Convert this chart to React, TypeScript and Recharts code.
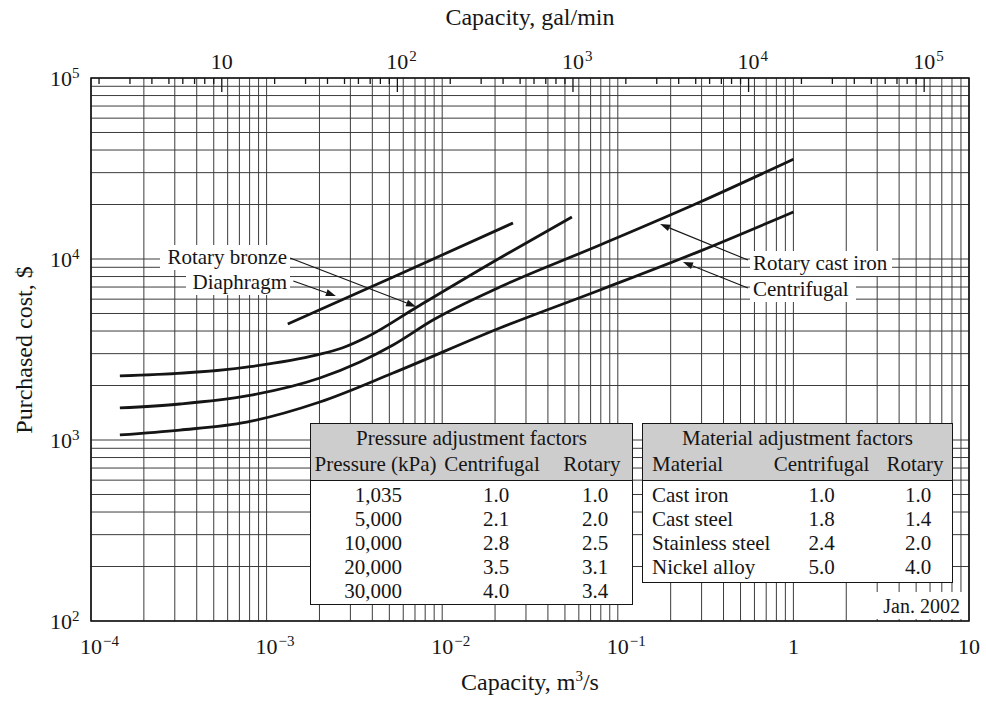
import React from "react";
import {
  LineChart,
  Line,
  XAxis,
  YAxis,
  CartesianGrid,
  ReferenceLine,
  ReferenceArea,
} from "recharts";

const FONT = '"Liberation Serif", "Times New Roman", serif';
const INK = "#151515";

// ---------------------------------------------------------------------------
// Data (capacity in m3/s, purchased cost in $)
// ---------------------------------------------------------------------------

const diaphragmQ = [1.32e-3, 5.75e-3, 0.0253];
const diaphragmCost = [4375, 8260, 15810];

const rotaryBronzeQ = [1.46e-4, 7.7e-4, 1.94e-3, 2.69e-3, 3.73e-3, 7.19e-3, 0.0213, 0.0548];
const rotaryBronzeCost = [2259, 2529, 2951, 3224, 3708, 5430, 10130, 17060];

const rotaryCastIronQ = [1.46e-4, 3.21e-4, 7.7e-4, 2.01e-3, 3.4e-3, 5.25e-3, 8.86e-3, 0.0213, 0.0792, 0.294, 1.0];
const rotaryCastIronCost = [1503, 1581, 1751, 2200, 2697, 3349, 4603, 7003, 11950, 20650, 35600];

const centrifugalQ = [1.46e-4, 3.21e-4, 7.7e-4, 2.01e-3, 5.25e-3, 0.0213, 0.0792, 0.294, 1.0];
const centrifugalCost = [1067, 1135, 1256, 1622, 2344, 4156, 6746, 11060, 18200];

// axis ticks
const decadesQ = [1e-4, 1e-3, 1e-2, 1e-1, 1, 10];
const decadesCost = [1e2, 1e3, 1e4, 1e5];
const decadesGpm = [1, 10, 1e2, 1e3, 1e4, 1e5];
// the printed gal/min scale sits this factor above m3/s
const GPM_FACTOR = 18000;

// tables
const pressureHeader = ["Pressure (kPa)", "Centrifugal", "Rotary"];
const pressureKpa = ["1,035", "5,000", "10,000", "20,000", "30,000"];
const pressureCentrifugal = ["1.0", "2.1", "2.8", "3.5", "4.0"];
const pressureRotary = ["1.0", "2.0", "2.5", "3.1", "3.4"];

const materialHeader = ["Material", "Centrifugal", "Rotary"];
const materialNames = ["Cast iron", "Cast steel", "Stainless steel", "Nickel alloy"];
const materialCentrifugal = ["1.0", "1.8", "2.4", "5.0"];
const materialRotary = ["1.0", "1.4", "2.0", "4.0"];

// annotation arrows: [from, to] in data units
const arrows = [
  [{ x: 1.36e-3, y: 10130 }, { x: 7.1e-3, y: 5450 }],
  [{ x: 1.42e-3, y: 7550 }, { x: 2.48e-3, y: 6250 }],
  [{ x: 0.551, y: 9870 }, { x: 0.174, y: 15590 }],
  [{ x: 0.551, y: 6920 }, { x: 0.235, y: 9620 }],
];

// ---------------------------------------------------------------------------
// Helpers
// ---------------------------------------------------------------------------

const toPoints = (qs: number[], cs: number[]) => qs.map((q, i) => ({ q, c: cs[i] }));

const logTicks = (decades: number[], min: number, max: number) => {
  const out: number[] = [];
  decades.forEach((d) => {
    for (let m = 1; m <= 9; m++) {
      const v = +(d * m).toPrecision(6);
      if (v >= min * 0.999 && v <= max * 1.001) out.push(v);
    }
  });
  return out;
};

const decadeExp = (v: number) => {
  const e = Math.round(Math.log10(v));
  return Math.abs(v - Math.pow(10, e)) / Math.pow(10, e) < 1e-6 ? e : null;
};

const supText = (e: number) => (e < 0 ? "\u2212" + Math.abs(e) : String(e));

const txt = { fontFamily: FONT, fill: INK };

// "10" centred on x with the exponent hanging to the right
function PowerCentered({ x, y, e }: { x: number; y: number; e: number }) {
  if (e === 0 || e === 1) {
    return (
      <text x={x} y={y} textAnchor="middle" fontSize={22} {...txt}>
        {e === 0 ? "1" : "10"}
      </text>
    );
  }
  return (
    <g>
      <text x={x} y={y} textAnchor="middle" fontSize={22} {...txt}>
        10
      </text>
      <text x={x + 12} y={y - 8} textAnchor="start" fontSize={15} {...txt}>
        {supText(e)}
      </text>
    </g>
  );
}

const renderBottomTick = (props: any) => {
  const { x, y, payload } = props;
  const e = decadeExp(payload.value);
  if (e === null) return <g />;
  return <PowerCentered x={x} y={y + 33} e={e} />;
};

const renderLeftTick = (props: any) => {
  const { x, y, payload } = props;
  const e = decadeExp(payload.value);
  if (e === null) return <g />;
  const split = x - 19;
  return (
    <g>
      <text x={split} y={y + 8} textAnchor="end" fontSize={22} {...txt}>
        10
      </text>
      <text x={split} y={y} textAnchor="start" fontSize={15} {...txt}>
        {supText(e)}
      </text>
    </g>
  );
};

// inward tick on the top edge for the gal/min scale
const makeTopTick = (gpm: number) => (props: any) => {
  const { x1, y1, y2 } = props;
  const top = Math.min(y1, y2);
  const e = decadeExp(gpm);
  const len = e === null ? 6 : 14;
  return (
    <g>
      <line x1={x1} x2={x1} y1={top} y2={top + len} stroke={INK} strokeWidth={1.3} />
      {e !== null && e > 0 ? <PowerCentered x={x1} y={top - 9} e={e} /> : null}
    </g>
  );
};

const renderArrow = (props: any) => {
  const { x1, y1, x2, y2 } = props;
  const ang = Math.atan2(y2 - y1, x2 - x1);
  const L = 10;
  const W = 3.5;
  const bx = x2 - L * Math.cos(ang);
  const by = y2 - L * Math.sin(ang);
  const px = -Math.sin(ang) * W;
  const py = Math.cos(ang) * W;
  return (
    <g>
      <line x1={x1} y1={y1} x2={bx} y2={by} stroke={INK} strokeWidth={1.1} />
      <polygon points={`${x2},${y2} ${bx + px},${by + py} ${bx - px},${by - py}`} fill={INK} />
    </g>
  );
};

// ---------------------------------------------------------------------------
// Overlays
// ---------------------------------------------------------------------------

const abs = (left: number, top: number, width: number, height: number): React.CSSProperties => ({
  position: "absolute",
  left,
  top,
  width,
  height,
  boxSizing: "border-box",
});

const tableText: React.CSSProperties = { fontSize: 21, fontFamily: FONT, color: INK };
const headerBg = "#cdcdcd";

function PressureTable() {
  const cols = [132, 106, 82];
  return (
    <div style={{ ...abs(310, 423, 323, 182), border: `1.5px solid ${INK}`, background: "#fff", ...tableText }}>
      <div style={{ background: headerBg, height: 56, borderBottom: `1.5px solid ${INK}` }}>
        <div style={{ height: 27, lineHeight: "28px", textAlign: "center" }}>Pressure adjustment factors</div>
        <div style={{ display: "flex", height: 27, lineHeight: "26px" }}>
          {pressureHeader.map((h, i) => (
            <div key={h} style={{ width: cols[i], textAlign: "center", paddingLeft: i === 2 ? 8 : 0, whiteSpace: "nowrap" }}>
              {h}
            </div>
          ))}
        </div>
      </div>
      <div style={{ paddingTop: 2 }}>
        {pressureKpa.map((p, r) => (
          <div key={p} style={{ display: "flex", height: 24, lineHeight: "24px" }}>
            <div style={{ width: cols[0], textAlign: "right", paddingRight: 41, boxSizing: "border-box" }}>{p}</div>
            <div style={{ width: cols[1], textAlign: "center" }}>{pressureCentrifugal[r]}</div>
            <div style={{ width: cols[2], textAlign: "center", paddingLeft: 10, boxSizing: "border-box" }}>{pressureRotary[r]}</div>
          </div>
        ))}
      </div>
    </div>
  );
}

function MaterialTable() {
  const cols = [121, 115, 72];
  return (
    <div style={{ ...abs(642, 423, 311, 160), border: `1.5px solid ${INK}`, background: "#fff", ...tableText }}>
      <div style={{ background: headerBg, height: 56, borderBottom: `1.5px solid ${INK}` }}>
        <div style={{ height: 27, lineHeight: "28px", textAlign: "center" }}>Material adjustment factors</div>
        <div style={{ display: "flex", height: 27, lineHeight: "26px" }}>
          {materialHeader.map((h, i) => (
            <div key={h} style={{ width: cols[i], textAlign: i === 0 ? "left" : "center", paddingLeft: i === 0 ? 9 : 0, boxSizing: "border-box", whiteSpace: "nowrap" }}>
              {h}
            </div>
          ))}
        </div>
      </div>
      <div style={{ paddingTop: 2 }}>
        {materialNames.map((m, r) => (
          <div key={m} style={{ display: "flex", height: 24, lineHeight: "24px" }}>
            <div style={{ width: cols[0], paddingLeft: 9, boxSizing: "border-box", whiteSpace: "nowrap" }}>{m}</div>
            <div style={{ width: cols[1], textAlign: "center" }}>{materialCentrifugal[r]}</div>
            <div style={{ width: cols[2], textAlign: "center", paddingLeft: 6, boxSizing: "border-box" }}>{materialRotary[r]}</div>
          </div>
        ))}
      </div>
    </div>
  );
}

function Tag({ left, top, width, align, children }: { left: number; top: number; width: number; align: "left" | "right"; children: React.ReactNode }) {
  return (
    <div
      style={{
        ...abs(left, top, width, 25),
        background: "#fff",
        fontSize: 21,
        fontFamily: FONT,
        color: INK,
        lineHeight: "25px",
        textAlign: align,
        paddingLeft: align === "left" ? 3 : 0,
        paddingRight: align === "right" ? 3 : 0,
        whiteSpace: "nowrap",
      }}
    >
      {children}
    </div>
  );
}

// ---------------------------------------------------------------------------
// Chart
// ---------------------------------------------------------------------------

export default function App() {
  const qTicks = logTicks(decadesQ, 1e-4, 10);
  const costTicks = logTicks(decadesCost, 100, 1e5);
  const gpmTicks = logTicks(decadesGpm, 1e-4 * GPM_FACTOR, 10 * GPM_FACTOR);

  const series = [
    { name: "Diaphragm", data: toPoints(diaphragmQ, diaphragmCost) },
    { name: "Rotary bronze", data: toPoints(rotaryBronzeQ, rotaryBronzeCost) },
    { name: "Rotary cast iron", data: toPoints(rotaryCastIronQ, rotaryCastIronCost) },
    { name: "Centrifugal", data: toPoints(centrifugalQ, centrifugalCost) },
  ];

  return (
    <div style={{ position: "absolute", left: 0, top: 0, width: 986, height: 702, background: "#fff", overflow: "hidden" }}>
      <LineChart width={986} height={702} margin={{ top: 78, right: 17, bottom: 0, left: 0 }}>
        <CartesianGrid xAxisId="m3" yAxisId="cost" stroke="#3c3c3c" strokeWidth={1} />
        <XAxis
          xAxisId="m3"
          type="number"
          dataKey="q"
          scale="log"
          domain={[1e-4, 10]}
          allowDataOverflow
          ticks={qTicks}
          interval={0}
          height={81}
          tickSize={0}
          tickMargin={0}
          tickLine={false}
          axisLine={false}
          tick={renderBottomTick}
        />
        <YAxis
          yAxisId="cost"
          type="number"
          scale="log"
          domain={[100, 1e5]}
          allowDataOverflow
          ticks={costTicks}
          interval={0}
          width={91}
          tickSize={0}
          tickMargin={0}
          tickLine={false}
          axisLine={false}
          tick={renderLeftTick}
        />
        <ReferenceArea
          xAxisId="m3"
          yAxisId="cost"
          x1={1e-4}
          x2={10}
          y1={100}
          y2={1e5}
          fill="none"
          fillOpacity={0}
          stroke={INK}
          strokeWidth={1.6}
          ifOverflow="visible"
        />
        {gpmTicks.map((g) => (
          <ReferenceLine
            key={"gpm" + g}
            xAxisId="m3"
            yAxisId="cost"
            x={g / GPM_FACTOR}
            shape={makeTopTick(g)}
            ifOverflow="visible"
          />
        ))}
        {series.map((s) => (
          <Line
            key={s.name}
            xAxisId="m3"
            yAxisId="cost"
            data={s.data}
            dataKey="c"
            name={s.name}
            type="monotone"
            stroke={INK}
            strokeWidth={2.8}
            dot={false}
            activeDot={false}
            isAnimationActive={false}
          />
        ))}
        {arrows.map((seg, i) => (
          <ReferenceLine
            key={i}
            xAxisId="m3"
            yAxisId="cost"
            segment={seg}
            stroke={INK}
            shape={renderArrow}
            ifOverflow="visible"
          />
        ))}
      </LineChart>

      {/* axis titles */}
      <div style={{ position: "absolute", left: 330, width: 400, top: 4, textAlign: "center", fontSize: 24, fontFamily: FONT, color: INK }}>
        Capacity, gal/min
      </div>
      <div style={{ position: "absolute", left: 330, width: 400, top: 669, textAlign: "center", fontSize: 24, fontFamily: FONT, color: INK }}>
        Capacity, m<sup style={{ fontSize: 15, verticalAlign: "9px", lineHeight: 0 }}>3</sup>/s
      </div>
      <div
        style={{
          position: "absolute",
          left: 24,
          top: 350,
          transform: "translate(-50%, -50%) rotate(-90deg)",
          fontSize: 24,
          fontFamily: FONT,
          color: INK,
          whiteSpace: "nowrap",
        }}
      >
        Purchased cost, $
      </div>

      {/* curve labels */}
      <Tag left={160} top={245} width={130} align="right">Rotary bronze</Tag>
      <Tag left={186} top={270} width={104} align="right">Diaphragm</Tag>
      <Tag left={750} top={251} width={142} align="left">Rotary cast iron</Tag>
      <Tag left={750} top={277} width={106} align="left">Centrifugal</Tag>

      <PressureTable />
      <MaterialTable />

      <div style={{ ...abs(868, 592, 99, 27), background: "#fff", fontSize: 20, fontFamily: FONT, color: INK, lineHeight: "28px", textAlign: "right", paddingRight: 7 }}>
        Jan. 2002
      </div>
    </div>
  );
}
